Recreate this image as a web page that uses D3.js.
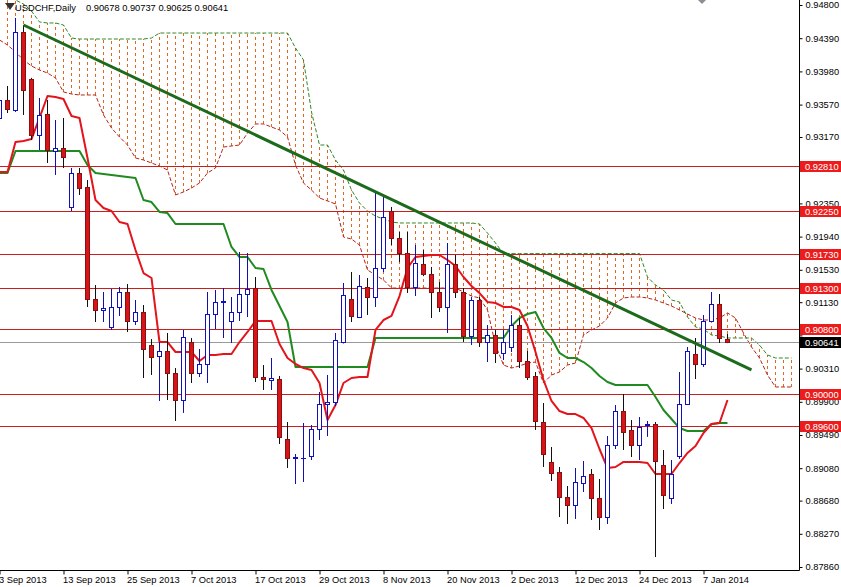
<!DOCTYPE html>
<html><head><meta charset="utf-8">
<script src="https://cdn.jsdelivr.net/npm/d3@7"></script>
<style>
html,body{margin:0;padding:0;background:#fff;}
svg{display:block;font-family:'Liberation Sans',Arial,sans-serif;}
</style></head>
<body><svg id="c" width="841" height="587"></svg>
<script>
// ---------- DATA ----------
const symbolTitle = "USDCHF,Daily";
const titleQuote = "0.90678 0.90737 0.90625 0.90641";
const tickIdx = [0, 8, 16, 24, 32, 40, 48, 56, 64, 72, 80, 88];
const tickLabels = ["3 Sep 2013","13 Sep 2013","25 Sep 2013","7 Oct 2013","17 Oct 2013","29 Oct 2013","8 Nov 2013","20 Nov 2013","2 Dec 2013","12 Dec 2013","24 Dec 2013","7 Jan 2014"];
const priceTicks = [0.94800,0.94390,0.93980,0.93570,0.93170,0.92760,0.92350,0.91940,0.91530,0.91130,0.90720,0.90310,0.89900,0.89490,0.89080,0.88680,0.88270,0.87860];
// tick labels fully covered by the price boxes in the reference
const hiddenTickLabels = [0.92760, 0.90720];

const open = [0.93405,0.93627,0.93503,0.94467,0.93886,0.93195,0.93454,0.92997,0.93034,0.92306,
0.92725,0.92553,0.91169,0.91034,0.90824,0.91071,0.91256,0.90898,0.91009,0.90601,
0.90466,0.90527,0.90256,0.89922,0.90638,0.90256,0.90367,0.90984,0.91132,0.90898,
0.91009,0.91231,0.91305,0.90206,0.90169,0.90181,0.89441,0.89206,0.89206,0.89231,
0.89564,0.89873,0.89898,0.90638,0.91169,0.90947,0.91318,0.91194,0.91552,0.92256,
0.91923,0.91737,0.91318,0.91602,0.91478,0.91256,0.91071,0.91602,0.91256,0.90713,
0.91157,0.90638,0.90725,0.90503,0.90577,0.90848,0.90404,0.90219,0.89650,0.89156,
0.89033,0.88724,0.88626,0.88897,0.89008,0.88712,0.88477,0.89366,0.89786,0.89552,
0.89366,0.89613,0.89626,0.89120,0.88712,0.89231,0.89873,0.90490,0.90367,0.90898,
0.91108,0.90678];
const high = [0.93726,0.93800,0.94640,0.94553,0.93900,0.93652,0.93627,0.93380,0.93405,0.92787,
0.92787,0.92639,0.91342,0.91256,0.91293,0.91318,0.91355,0.91157,0.91095,0.90675,
0.90638,0.90750,0.90317,0.90787,0.90688,0.90552,0.91256,0.91281,0.91305,0.91194,
0.91750,0.91737,0.91441,0.90354,0.90441,0.90219,0.89650,0.89255,0.89638,0.89613,
0.90021,0.90231,0.90750,0.91367,0.91503,0.91466,0.91429,0.92491,0.92454,0.92306,
0.91997,0.91997,0.91836,0.91774,0.91565,0.91379,0.91861,0.91713,0.91305,0.91194,
0.91194,0.90848,0.90787,0.90787,0.90972,0.90935,0.90527,0.90268,0.89885,0.89342,
0.89095,0.88860,0.89082,0.89169,0.89070,0.88947,0.89478,0.89860,0.89996,0.89675,
0.89712,0.89663,0.89650,0.89305,0.89181,0.90268,0.90577,0.90688,0.90972,0.91256,
0.91231,0.90737];
const low = [0.93355,0.93466,0.93479,0.93442,0.93133,0.93009,0.92849,0.92701,0.92787,0.92256,
0.92454,0.91071,0.90885,0.90885,0.90787,0.90960,0.90762,0.90848,0.90194,0.90231,
0.89910,0.89922,0.89663,0.89763,0.90132,0.90206,0.90132,0.90799,0.90688,0.90626,
0.90898,0.90947,0.90144,0.90046,0.90046,0.89379,0.89082,0.88885,0.88910,0.89181,
0.89428,0.89478,0.89848,0.90620,0.90885,0.90935,0.90972,0.91071,0.91503,0.91836,
0.91626,0.91244,0.91206,0.91452,0.90935,0.91009,0.90750,0.91182,0.90638,0.90601,
0.90577,0.90391,0.90379,0.90416,0.90515,0.90317,0.90169,0.89552,0.89095,0.88922,
0.88477,0.88391,0.88453,0.88786,0.88440,0.88317,0.88391,0.89317,0.89305,0.89218,
0.89181,0.89467,0.87983,0.88576,0.88638,0.89194,0.89860,0.90181,0.90330,0.90885,
0.90626,0.90625];
const close = [0.93627,0.93516,0.94467,0.93750,0.93195,0.93442,0.93009,0.93034,0.92923,0.92725,
0.92540,0.91169,0.91034,0.91058,0.91071,0.91256,0.90898,0.91009,0.90552,0.90453,
0.90527,0.90256,0.89922,0.90700,0.90256,0.90367,0.90984,0.91132,0.91145,0.91009,
0.91231,0.91293,0.90206,0.90181,0.90194,0.89467,0.89206,0.89215,0.89210,0.89564,
0.89873,0.89898,0.90663,0.91219,0.90960,0.91330,0.91194,0.91552,0.92182,0.91923,
0.91737,0.91318,0.91614,0.91478,0.91256,0.91071,0.91602,0.91256,0.90713,0.91157,
0.90638,0.90725,0.90503,0.90638,0.90848,0.90404,0.90206,0.89663,0.89255,0.89021,
0.88724,0.88626,0.88910,0.88984,0.88712,0.88477,0.89366,0.89786,0.89527,0.89366,
0.89589,0.89626,0.89169,0.88749,0.89008,0.89873,0.90527,0.90367,0.90898,0.91108,
0.90688,0.90641];

const tenkan = [0.92738,0.92738,0.93108,0.93121,0.93145,0.93405,0.93676,0.93664,0.93639,0.93429,
0.93405,0.92911,0.92392,0.92293,0.92256,0.92120,0.92096,0.91774,0.91490,0.91429,
0.90638,0.90638,0.90515,0.90515,0.90515,0.90404,0.90478,0.90478,0.90490,0.90490,
0.90638,0.90762,0.90898,0.90898,0.90898,0.90614,0.90441,0.90367,0.90317,0.90293,
0.90132,0.89675,0.89860,0.90132,0.90194,0.90206,0.90206,0.90787,0.90910,0.90960,
0.91206,0.91552,0.91688,0.91700,0.91713,0.91713,0.91651,0.91577,0.91441,0.91330,
0.91243,0.91132,0.91120,0.91071,0.91071,0.91034,0.90836,0.90515,0.90169,0.89910,
0.89786,0.89749,0.89749,0.89700,0.89576,0.89317,0.89082,0.89095,0.89157,0.89157,
0.89157,0.89144,0.89008,0.89008,0.89008,0.89144,0.89268,0.89354,0.89515,0.89626,
0.89638,0.89922];
const kijun = [0.92725,0.92725,0.92997,0.92997,0.92997,0.92997,0.92997,0.92997,0.92997,0.92997,
0.92997,0.92824,0.92725,0.92713,0.92701,0.92688,0.92676,0.92664,0.92392,0.92367,
0.92244,0.92231,0.92096,0.92096,0.92096,0.92096,0.92096,0.92096,0.92096,0.91812,
0.91688,0.91688,0.91552,0.91540,0.91281,0.91083,0.90885,0.90330,0.90330,0.90330,
0.90330,0.90330,0.90330,0.90330,0.90330,0.90330,0.90330,0.90688,0.90688,0.90688,
0.90688,0.90688,0.90688,0.90688,0.90688,0.90688,0.90688,0.90688,0.90688,0.90688,
0.90688,0.90688,0.90688,0.90688,0.90836,0.90935,0.90984,0.91009,0.90811,0.90688,
0.90503,0.90441,0.90441,0.90391,0.90317,0.90219,0.90144,0.90107,0.90107,0.90107,
0.90107,0.90107,0.89959,0.89799,0.89688,0.89576,0.89539,0.89539,0.89539,0.89626,
0.89638,0.89638];
const spanA = [0.94368,0.94306,0.94220,0.94121,0.94047,0.93997,0.93960,0.93899,0.93726,0.93701,
0.93689,0.93689,0.93689,0.93442,0.93281,0.93170,0.93071,0.92911,0.92886,0.92849,
0.92812,0.92762,0.92454,0.92491,0.92540,0.92602,0.92725,0.92787,0.93046,0.93059,
0.93071,0.93219,0.93331,0.93331,0.93293,0.93256,0.93170,0.92824,0.92602,0.92515,
0.92417,0.92380,0.92343,0.91935,0.91910,0.91836,0.91528,0.91466,0.91404,0.91305,
0.91305,0.91305,0.91305,0.91305,0.91305,0.91305,0.91305,0.91305,0.91256,0.91206,
0.91182,0.91034,0.90601,0.90354,0.90317,0.90342,0.90379,0.90391,0.90132,0.90231,
0.90268,0.90354,0.90379,0.90725,0.90787,0.90836,0.90935,0.91120,0.91182,0.91194,
0.91194,0.91182,0.91157,0.91120,0.91083,0.91034,0.90984,0.90935,0.90910,0.90910,
0.90935,0.90997,0.90935,0.90750,0.90577,0.90441,0.90231,0.90083,0.90083,0.90083];
const spanB = [0.94923,0.94899,0.94862,0.94812,0.94726,0.94590,0.94578,0.94578,0.94553,0.94392,
0.94380,0.94380,0.94380,0.94380,0.94380,0.94380,0.94380,0.94380,0.94380,0.94392,
0.94454,0.94454,0.94454,0.94454,0.94454,0.94454,0.94454,0.94454,0.94454,0.94454,
0.94454,0.94454,0.94454,0.94454,0.94454,0.94454,0.94454,0.94269,0.94121,0.93479,
0.93071,0.93071,0.92886,0.92762,0.92515,0.92355,0.92256,0.92194,0.92157,0.92120,
0.92108,0.92108,0.92108,0.92108,0.92108,0.92108,0.92108,0.92108,0.92108,0.92108,
0.92096,0.91984,0.91861,0.91730,0.91730,0.91730,0.91730,0.91730,0.91730,0.91730,
0.91730,0.91730,0.91730,0.91730,0.91730,0.91730,0.91730,0.91730,0.91730,0.91730,
0.91730,0.91441,0.91342,0.91281,0.91157,0.91132,0.90947,0.90824,0.90799,0.90725,
0.90713,0.90688,0.90688,0.90688,0.90688,0.90601,0.90478,0.90441,0.90441,0.90441];

const trendIdx = [3, 94];
const trendVal = [0.94553, 0.90293];
const levels = [0.92810, 0.92250, 0.91730, 0.91300, 0.90800, 0.90000, 0.89600];
const lastPrice = 0.90641;

// ---------- CHART ----------
const svg = d3.select("#c");
const plotR = 799, plotB = 570;
const x = d3.scaleLinear().domain([0, 100]).range([-0.5, 799.5]);
const y = d3.scaleLinear().domain([0.8786, 0.948]).range([567, 5]);
const cy = v => Math.round(y(v)) + 0.5;

svg.append("defs").append("clipPath").attr("id","pc")
  .append("rect").attr("x",0).attr("y",0).attr("width",plotR).attr("height",plotB);
const g = svg.append("g").attr("clip-path","url(#pc)");

// cloud hatch
const cloudIdx = d3.range(spanA.length);
g.append("g").selectAll("line").data(cloudIdx).join("line")
  .attr("x1", i => x(i)).attr("x2", i => x(i))
  .attr("y1", i => y(spanA[i])).attr("y2", i => y(spanB[i]))
  .attr("stroke", "#e0681e").attr("stroke-width", 1)
  .attr("stroke-dasharray", "3,3");

const lineGen = arr => d3.line().x((d,i)=>x(i)).y(d=>y(d))(arr);
g.append("path").attr("d", lineGen(spanA)).attr("fill","none")
  .attr("stroke","#b3261e").attr("stroke-width",1).attr("stroke-dasharray","4,2");
g.append("path").attr("d", lineGen(spanB)).attr("fill","none")
  .attr("stroke","#2f8a24").attr("stroke-width",1).attr("stroke-dasharray","4,2");

// levels
g.append("line").attr("x1",0).attr("x2",plotR).attr("y1",cy(lastPrice)).attr("y2",cy(lastPrice))
  .attr("stroke","#9a9a9a").attr("stroke-width",1);
g.append("g").selectAll("line").data(levels).join("line")
  .attr("x1",0).attr("x2",plotR).attr("y1",d=>cy(d)).attr("y2",d=>cy(d))
  .attr("stroke","#c81e1e").attr("stroke-width",1);

// tenkan / kijun
g.append("path").attr("d", lineGen(kijun)).attr("fill","none")
  .attr("stroke","#1f8a1f").attr("stroke-width",2).attr("stroke-linejoin","round");
g.append("path").attr("d", lineGen(tenkan)).attr("fill","none")
  .attr("stroke","#e3141b").attr("stroke-width",2).attr("stroke-linejoin","round");

// candles
const idx = d3.range(open.length);
const cg = g.append("g").selectAll("g").data(idx).join("g");
cg.append("line")
  .attr("x1", i => x(i)).attr("x2", i => x(i))
  .attr("y1", i => y(high[i])).attr("y2", i => y(low[i]))
  .attr("stroke", i => close[i] >= open[i] ? "#1010b0" : "#101010").attr("stroke-width",1);
cg.append("rect")
  .attr("x", i => x(i) - 2).attr("width", 4)
  .attr("y", i => Math.round(y(Math.max(open[i], close[i]))) + 0.5)
  .attr("height", i => Math.max(0.01, Math.round(Math.abs(y(open[i]) - y(close[i])))))
  .attr("fill", i => close[i] >= open[i] ? "#ffffff" : "#d8141a")
  .attr("stroke", i => close[i] >= open[i] ? "#1010c0" : "#8a1010").attr("stroke-width",1);

// trend line
g.append("line")
  .attr("x1", x(trendIdx[0])).attr("y1", y(trendVal[0]))
  .attr("x2", x(trendIdx[1])).attr("y2", y(trendVal[1]))
  .attr("stroke","#1c6a1c").attr("stroke-width",3);

// axes
const fmt = d3.format(".5f");
const yAxis = d3.axisRight(y).tickValues(priceTicks)
  .tickFormat(d => hiddenTickLabels.includes(d) ? "" : fmt(d))
  .tickSize(3).tickPadding(3);
const ya = svg.append("g").attr("transform", `translate(${plotR + 0.5},0)`).call(yAxis);
ya.select(".domain").remove();
ya.selectAll("text").attr("font-size", 9.3).attr("fill","#000").attr("font-family","'Liberation Sans',Arial,sans-serif");
ya.selectAll("line").attr("stroke","#000");

const xAxis = d3.axisBottom(x).tickValues(tickIdx).tickFormat((d,i)=>tickLabels[i])
  .tickSize(4).tickPadding(2);
const xa = svg.append("g").attr("transform", `translate(0,${plotB + 0.5})`).call(xAxis);
xa.select(".domain").remove();
xa.selectAll("text").attr("font-size", 9.3).attr("fill","#000").attr("text-anchor","start")
  .attr("dx", -1).attr("font-family","'Liberation Sans',Arial,sans-serif");
xa.selectAll("line").attr("stroke","#000");

svg.append("line").attr("x1",plotR+0.5).attr("x2",plotR+0.5).attr("y1",0).attr("y2",plotB+0.5)
  .attr("stroke","#000");
svg.append("line").attr("x1",0).attr("x2",plotR+0.5).attr("y1",plotB+0.5).attr("y2",plotB+0.5)
  .attr("stroke","#000");

// price boxes
const boxes = levels.map(v => ({v, bg:"#ec1c1c"})).concat([{v:lastPrice, bg:"#000"}]);
const bx = svg.append("g").selectAll("g").data(boxes).join("g");
bx.append("rect").attr("x", plotR + 1).attr("width", 41)
  .attr("y", d => Math.round(y(d.v)) - 5).attr("height", 11).attr("fill", d => d.bg);
bx.append("text").attr("x", plotR + 6).attr("y", d => Math.round(y(d.v)) + 4)
  .attr("font-size", 9.3).attr("fill","#fff").text(d => fmt(d.v));

// header
svg.append("path").attr("d","M5,3 L15,3 L10,10 Z").attr("fill","#333");
svg.append("text").attr("x",15).attr("y",11).attr("font-size",9.3).attr("fill","#000").text(symbolTitle);
svg.append("text").attr("x",86).attr("y",11).attr("font-size",9.3).attr("fill","#000").text(titleQuote);
svg.append("path").attr("d","M698,0 L702,4 L706,0 Z").attr("fill","#8a8f96");
</script></body></html>
